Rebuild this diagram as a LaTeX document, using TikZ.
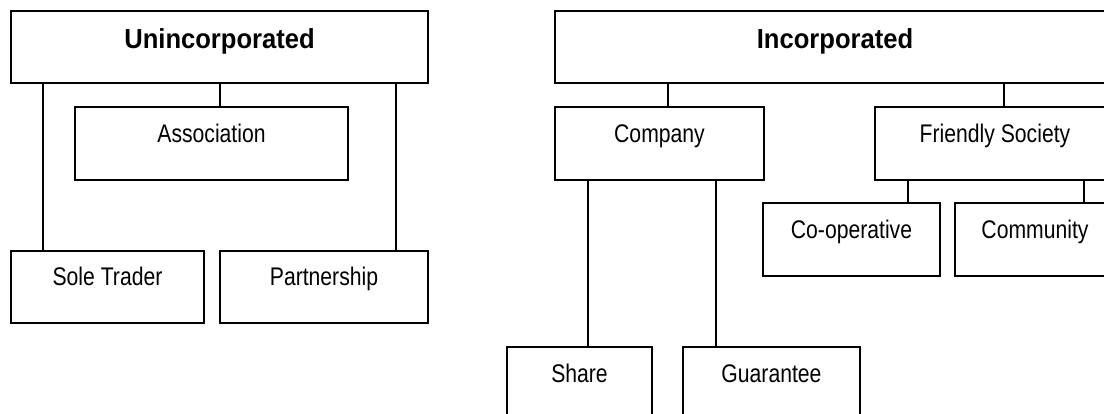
\documentclass[tikz,border=0pt]{standalone}
\usepackage{fontspec}
\setmainfont{Liberation Sans}
\newfontfamily\regf[FakeStretch=0.83]{Liberation Sans}
\newfontfamily\boldf[FakeStretch=0.93]{Liberation Sans}
\begin{document}
\begin{tikzpicture}[x=1pt,y=-1pt,
  box/.style={draw, line width=1.3pt, rectangle, inner sep=0pt, outer sep=0pt},
  lbl/.style={anchor=base, inner sep=0pt, font=\regf\fontsize{25.5}{28}\selectfont},
  ttl/.style={anchor=base, inner sep=0pt, font=\boldf\fontsize{27.5}{30}\selectfont\bfseries},
  conn/.style={line width=1.3pt}]
\useasboundingbox (0,0) rectangle (1104,414);
\clip (0,0) rectangle (1104,414);
\fill[white] (0,0) rectangle (1104,414);
% boxes
\node[box, minimum width=417pt, minimum height=72pt] (U) at (219.5,47) {};
\node[box, minimum width=273pt, minimum height=73pt] (A) at (211.5,143.5) {};
\node[box, minimum width=193pt, minimum height=72pt] (ST) at (107.5,287) {};
\node[box, minimum width=208pt, minimum height=72pt] (P) at (324,287) {};
\node[box, minimum width=560pt, minimum height=72pt] (I) at (835,47) {};
\node[box, minimum width=209pt, minimum height=73pt] (C) at (659.5,143.5) {};
\node[box, minimum width=240pt, minimum height=73pt] (FS) at (995,143.5) {};
\node[box, minimum width=177pt, minimum height=73pt] (CO) at (851.5,239.5) {};
\node[box, minimum width=160pt, minimum height=73pt] (CM) at (1035,239.5) {};
\node[box, minimum width=145pt, minimum height=73pt] (S) at (579.5,383.5) {};
\node[box, minimum width=177pt, minimum height=73pt] (G) at (771.5,383.5) {};
% labels
\node[ttl] (tU) at ([yshift=-37.3pt]U.north) {Unincorporated};
\node[ttl] (tI) at ([yshift=-37.3pt]I.north) {Incorporated};
\node[lbl] (tA) at ([yshift=-35.3pt]A.north) {Association};
\node[lbl] (tST) at ([yshift=-35pt]ST.north) {Sole Trader};
\node[lbl] (tP) at ([yshift=-35pt]P.north) {Partnership};
\node[lbl] (tC) at ([yshift=-35.3pt]C.north) {Company};
\node[lbl] (tFS) at ([yshift=-35.3pt]FS.north) {Friendly Society};
\node[lbl] (tCO) at ([yshift=-35.3pt]CO.north) {Co-operative};
\node[lbl] (tCM) at ([yshift=-35.3pt]CM.north) {Community};
\node[lbl] (tS) at ([yshift=-35.3pt]S.north) {Share};
\node[lbl] (tG) at ([yshift=-35.3pt]G.north) {Guarantee};
% connectors
\draw[conn] (U.south -| 43,0) -- (ST.north -| 43,0);
\draw[conn] (U.south -| 220,0) -- (A.north -| 220,0);
\draw[conn] (U.south -| 396,0) -- (P.north -| 396,0);
\draw[conn] (I.south -| 668,0) -- (C.north -| 668,0);
\draw[conn] (I.south -| 1004,0) -- (FS.north -| 1004,0);
\draw[conn] (C.south -| 588,0) -- (S.north -| 588,0);
\draw[conn] (C.south -| 716,0) -- (G.north -| 716,0);
\draw[conn] (FS.south -| 908,0) -- (CO.north -| 908,0);
\draw[conn] (FS.south -| 1084,0) -- (CM.north -| 1084,0);
\end{tikzpicture}
\end{document}
